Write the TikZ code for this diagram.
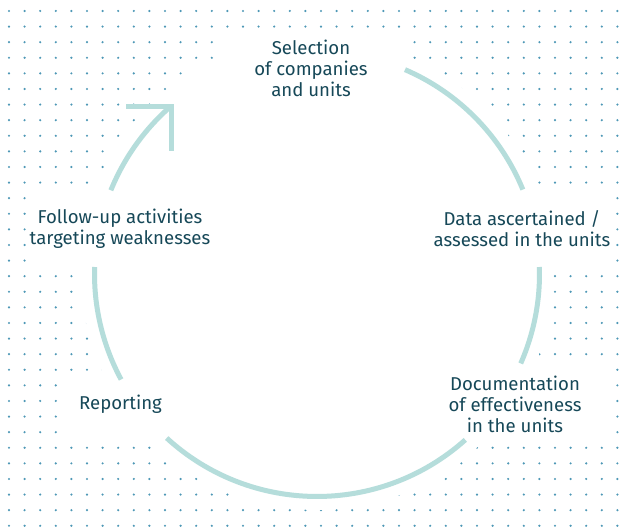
\documentclass[tikz,border=0pt]{standalone}
\usepackage{fontspec}
\setmainfont{Fira Sans}
\definecolor{dotc}{RGB}{78,152,182}
\definecolor{arcc}{RGB}{181,221,219}
\definecolor{txtc}{RGB}{22,72,88}
\begin{document}
\begin{tikzpicture}[x=1pt,y=1pt,
  lbl/.style={align=center,inner sep=0pt,text=txtc,font=\fontsize{18.6}{21}\selectfont},
  ring/.style={draw=arcc,line width=5pt},
  maskbox/.style={fill=white,draw=none}]
\useasboundingbox (0,0) rectangle (630,529);
% dot grid
\foreach \i in {0,...,39}{
  \foreach \j in {0,...,33}{
    \fill[dotc] ({9+15.6*\i},{529-(11+15.6*\j)}) circle (1.2);
  }
}
\coordinate (c) at (317,255);
% white masks
\fill[white] (c) circle (236);
\fill[maskbox] (214,429) rectangle (410,497);
\fill[maskbox] (420,261) rectangle (610,339);
\fill[maskbox] (420,89) rectangle (610,167);
\fill[maskbox] (64,89) rectangle (175,151);
\fill[maskbox] (30,261) rectangle (212,339);
% ring segments
\draw[ring] ([shift={(66.7:222.5)}]c) arc[start angle=66.7,end angle=22.3,radius=222.5];
\draw[ring] ([shift={(1.8:222.5)}]c) arc[start angle=1.8,end angle=-23.7,radius=222.5];
\draw[ring] ([shift={(-48.2:222.5)}]c) arc[start angle=-48.2,end angle=-132.5,radius=222.5];
\draw[ring] ([shift={(208.3:222.5)}]c) arc[start angle=208.3,end angle=178.2,radius=222.5];
\draw[ring] ([shift={(157.9:222.5)}]c) arc[start angle=157.9,end angle=131,radius=222.5] coordinate (tip);
\draw[ring,miter limit=10] ([xshift=-45pt]tip) -- (tip) -- ([yshift=-45pt]tip);
% labels
\node[lbl] (sel) at (311,461) {Selection\\of companies\\and units};
\node[lbl] (data) at (522,300) {Data ascertained /\\assessed in the units};
\node[lbl] (doc) at (515,125) {Documentation\\of effectiveness\\in the units};
\node[lbl] (rep) at (120.5,125) {Reporting};
\node[lbl] (fol) at (120,300) {Follow-up activities\\targeting weaknesses};
\end{tikzpicture}
\end{document}
